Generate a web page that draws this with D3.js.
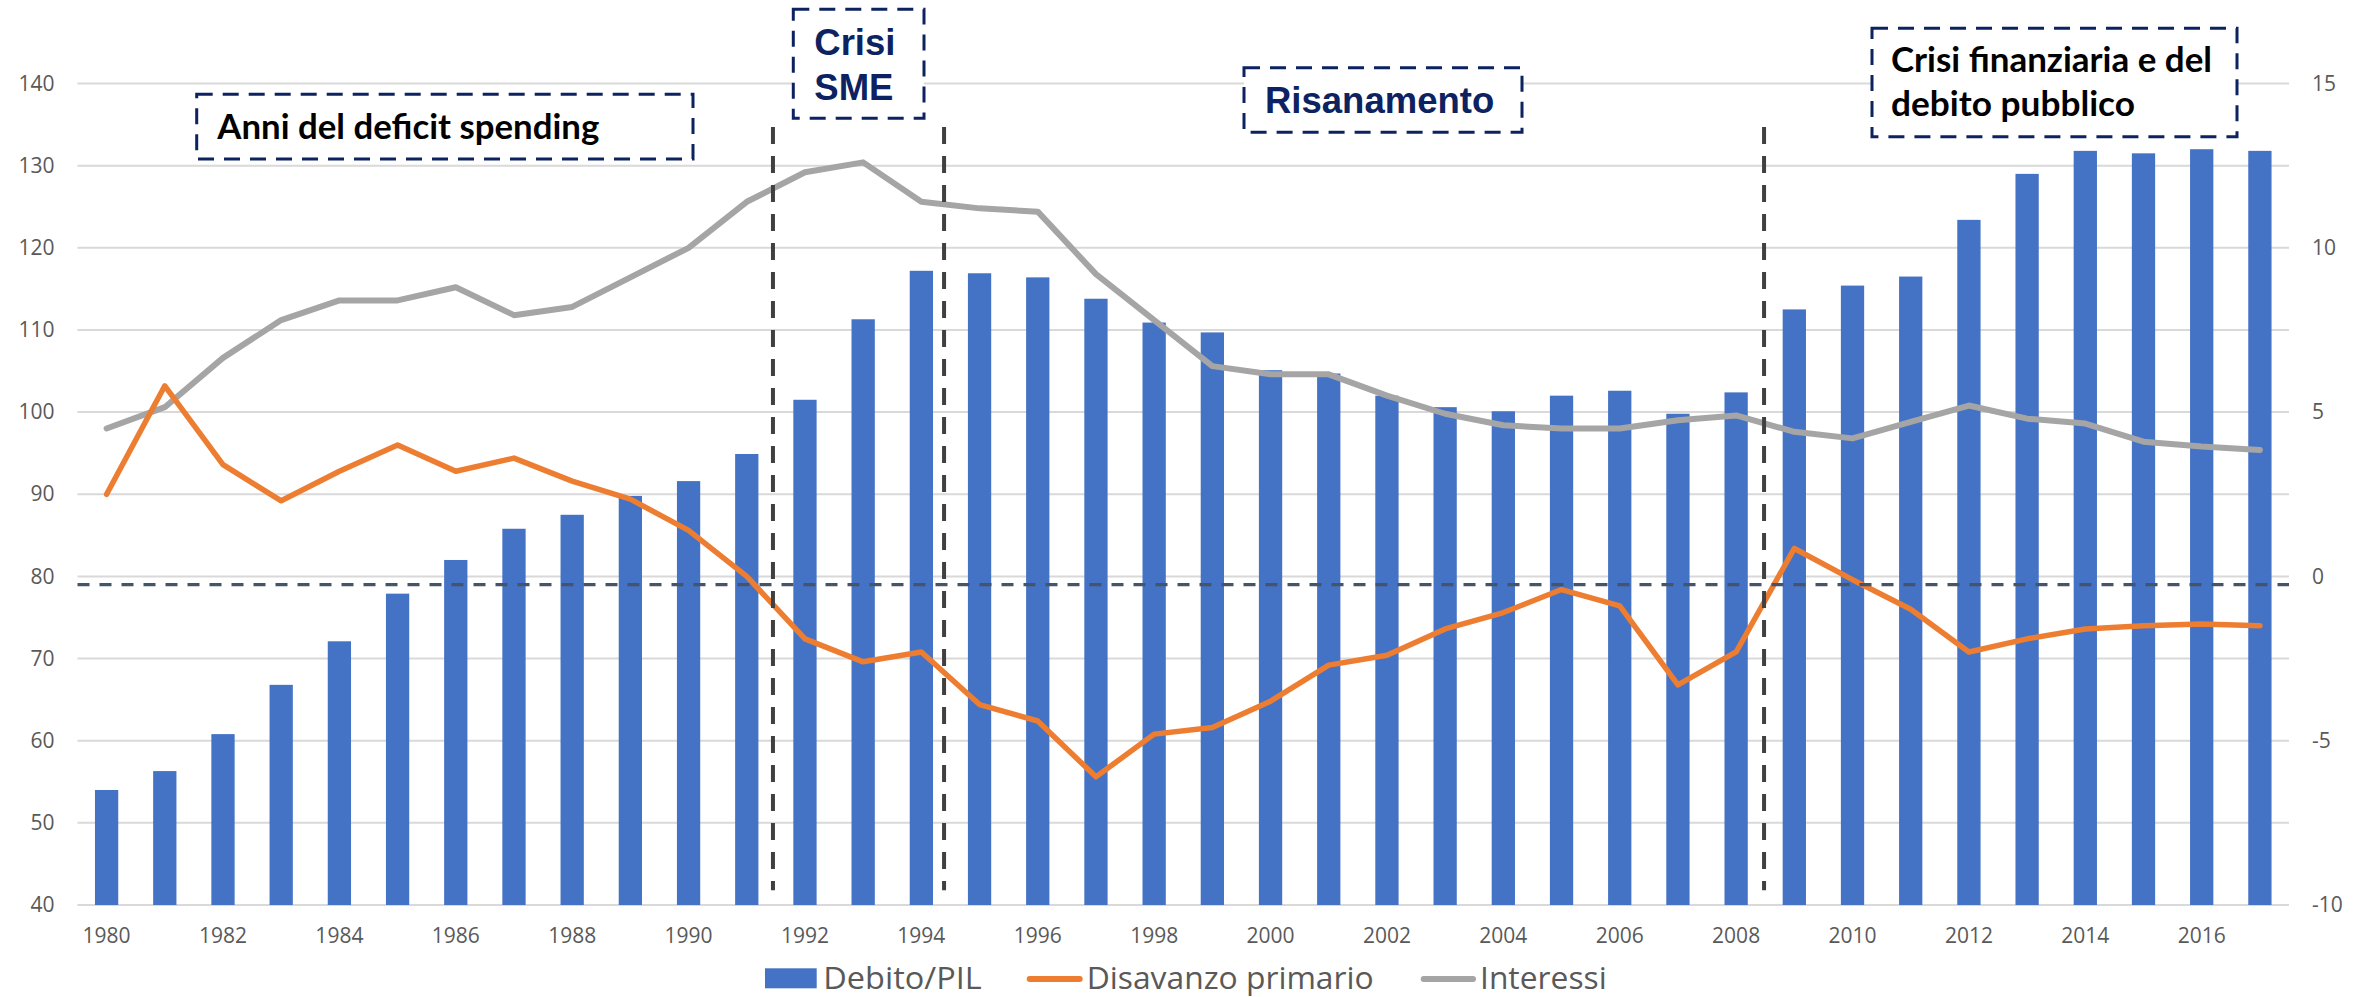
<!DOCTYPE html>
<html><head><meta charset="utf-8">
<script src="https://cdn.jsdelivr.net/npm/d3@7"></script>
<style>body{margin:0;background:#fff} svg{display:block}</style>
</head><body>
<svg id="chart" width="2369" height="997"></svg>
<script>
// ---------- DATA ----------
const years = [1980,1981,1982,1983,1984,1985,1986,1987,1988,1989,1990,1991,1992,1993,1994,1995,1996,1997,1998,1999,
               2000,2001,2002,2003,2004,2005,2006,2007,2008,2009,2010,2011,2012,2013,2014,2015,2016,2017];
const debitoPIL = [54.0,56.3,60.8,66.8,72.1,77.9,82.0,85.8,87.5,89.8,91.6,94.9,101.5,111.3,117.2,116.9,116.4,113.8,110.9,109.7,
                   105.1,104.7,102.0,100.6,100.1,102.0,102.6,99.8,102.4,112.5,115.4,116.5,123.4,129.0,131.8,131.5,132.0,131.8];
const disavanzoPrimario = [2.5,5.8,3.4,2.3,3.2,4.0,3.2,3.6,2.9,2.35,1.4,0.0,-1.9,-2.6,-2.3,-3.9,-4.4,-6.1,-4.8,-4.6,
                           -3.8,-2.7,-2.4,-1.6,-1.1,-0.4,-0.9,-3.3,-2.3,0.85,-0.1,-1.0,-2.3,-1.9,-1.6,-1.5,-1.45,-1.5];
const interessi = [4.5,5.15,6.65,7.8,8.4,8.4,8.8,7.95,8.2,9.1,10.0,11.4,12.3,12.6,11.4,11.2,11.1,9.2,7.8,6.4,
                   6.15,6.15,5.5,4.95,4.6,4.5,4.5,4.75,4.9,4.4,4.2,4.7,5.2,4.8,4.65,4.1,3.95,3.85];
const leftTicks = [40,50,60,70,80,90,100,110,120,130,140];
const rightTicks = [-10,-5,0,5,10,15];
const xTickYears = [1980,1982,1984,1986,1988,1990,1992,1994,1996,1998,2000,2002,2004,2006,2008,2010,2012,2014,2016];
const periodMarkerYears = [1991.45, 1994.39, 2008.48];   // vertical dashed separators
const periodMarkerRange = [41.8, 134.7];                   // on left axis
const referenceLineValue = -0.25;                          // horizontal dashed line (right axis)
const seriesNames = ["Debito/PIL", "Disavanzo primario", "Interessi"];
const annotationLabels = [
  ["Anni del deficit spending"],
  ["Crisi", "SME"],
  ["Risanamento"],
  ["Crisi finanziaria e del", "debito pubblico"]
];

// ---------- LAYOUT / STYLE ----------
const W = 2369, H = 997;
const plot = {left: 77.5, right: 2289, top: 83.5, bottom: 905};
const colors = {bar: "#4472c4", orange: "#ed7d31", gray: "#a5a5a5", grid: "#d9d9d9",
                text: "#595959", ref: "#44546a", marker: "#404040", navy: "#0d2260"};
const boxes = [
  {x0:196.7, y0:94.3, x1:693, y1:159, tx:217.3, base:[139.3], len:[382], style:"calibri"},
  {x0:793.3, y0:9.3, x1:924, y1:118.3, tx:814.3, base:[55,100], len:[null,null], style:"arial"},
  {x0:1244, y0:67.7, x1:1522, y1:132.3, tx:1265, base:[113], len:[null], style:"arial"},
  {x0:1872, y0:28.3, x1:2237, y1:136.7, tx:1891, base:[72,116], len:[321,244], style:"calibri"}
];

const svg = d3.select("#chart");
svg.append("rect").attr("width", W).attr("height", H).attr("fill", "#fff");

const x = d3.scaleBand().domain(years).range([plot.left, plot.right]).paddingInner(0.6).paddingOuter(0.3);
const yL = d3.scaleLinear().domain([40, 140]).range([plot.bottom, plot.top]);
const yR = d3.scaleLinear().domain([-10, 15]).range([plot.bottom, plot.top]);
const xc = yr => x(yr) + x.bandwidth() / 2;
const xf = v => xc(years[0]) + (v - years[0]) * x.step();

const regFont = "'Open Sans', 'Noto Sans', sans-serif";

// gridlines
svg.append("g").selectAll("line").data(leftTicks).join("line")
  .attr("x1", plot.left).attr("x2", plot.right)
  .attr("y1", d => yL(d)).attr("y2", d => yL(d))
  .attr("stroke", colors.grid).attr("stroke-width", 2);

// axes
function styleAxis(g) {
  g.select(".domain").remove();
  g.selectAll(".tick line").remove();
  g.selectAll("text").attr("font-family", regFont).attr("font-size", 21).attr("fill", colors.text);
}
svg.append("g").attr("transform", `translate(${plot.left},0)`)
  .call(d3.axisLeft(yL).tickValues(leftTicks).tickSize(0).tickPadding(23).tickFormat(d3.format("d")))
  .call(styleAxis);
svg.append("g").attr("transform", `translate(${plot.right},0)`)
  .call(d3.axisRight(yR).tickValues(rightTicks).tickSize(0).tickPadding(23).tickFormat(d => d < 0 ? "-" + Math.abs(d) : d))
  .call(styleAxis);
svg.append("g").attr("transform", `translate(0,${plot.bottom})`)
  .call(d3.axisBottom(x).tickValues(xTickYears).tickSize(0).tickPadding(23))
  .call(styleAxis);

// bars
svg.append("g").selectAll("rect").data(years).join("rect")
  .attr("x", d => x(d)).attr("width", x.bandwidth())
  .attr("y", (d, i) => yL(debitoPIL[i]))
  .attr("height", (d, i) => yL(40) - yL(debitoPIL[i]))
  .attr("fill", colors.bar);

// lines
const lineGen = d3.line().x((d, i) => xc(years[i])).y(d => yR(d));
svg.append("path").datum(interessi).attr("d", lineGen)
  .attr("fill", "none").attr("stroke", colors.gray).attr("stroke-width", 6)
  .attr("stroke-linejoin", "round").attr("stroke-linecap", "round");
svg.append("path").datum(disavanzoPrimario).attr("d", lineGen)
  .attr("fill", "none").attr("stroke", colors.orange).attr("stroke-width", 5.5)
  .attr("stroke-linejoin", "round").attr("stroke-linecap", "round");

// horizontal reference line
svg.append("line")
  .attr("x1", plot.left).attr("x2", plot.right)
  .attr("y1", yR(referenceLineValue)).attr("y2", yR(referenceLineValue))
  .attr("stroke", colors.ref).attr("stroke-width", 3.2).attr("stroke-dasharray", "12 10");

// vertical period markers
svg.append("g").selectAll("line").data(periodMarkerYears).join("line")
  .attr("x1", d => xf(d)).attr("x2", d => xf(d))
  .attr("y1", yL(periodMarkerRange[1])).attr("y2", yL(periodMarkerRange[0]))
  .attr("stroke", colors.marker).attr("stroke-width", 4).attr("stroke-dasharray", "17 12");

// annotation boxes
boxes.forEach((b, i) => {
  const g = svg.append("g");
  g.append("rect").attr("x", b.x0).attr("y", b.y0).attr("width", b.x1 - b.x0).attr("height", b.y1 - b.y0)
    .attr("fill", "#fff").attr("stroke", colors.navy).attr("stroke-width", 3).attr("stroke-dasharray", "16 10");
  annotationLabels[i].forEach((t, j) => {
    const txt = g.append("text").attr("x", b.tx).attr("y", b.base[j]).text(t).attr("font-weight", "bold");
    if (b.style === "arial") {
      txt.attr("font-family", "'Liberation Sans', Arial, sans-serif").attr("font-size", 36.5).attr("fill", colors.navy);
    } else {
      txt.attr("font-family", "Lato, 'Open Sans', sans-serif").attr("font-size", 34).attr("fill", "#000");
      if (b.len[j]) txt.attr("textLength", b.len[j]).attr("lengthAdjust", "spacingAndGlyphs");
    }
  });
});

// legend
const lg = svg.append("g");
const legendY = 979, legendBase = 989.3;
lg.append("rect").attr("x", 765).attr("y", 968.3).attr("width", 51.7).attr("height", 20).attr("fill", colors.bar);
lg.append("line").attr("x1", 1029.7).attr("x2", 1079.7).attr("y1", legendY).attr("y2", legendY)
  .attr("stroke", colors.orange).attr("stroke-width", 6).attr("stroke-linecap", "round");
lg.append("line").attr("x1", 1423.7).attr("x2", 1473).attr("y1", legendY).attr("y2", legendY)
  .attr("stroke", colors.gray).attr("stroke-width", 6).attr("stroke-linecap", "round");
const legendText = [{x: 823.3, len: 158.4}, {x: 1086.7, len: 287}, {x: 1480, len: 126.7}];
legendText.forEach((l, i) => {
  lg.append("text").attr("x", l.x).attr("y", legendBase).text(seriesNames[i])
    .attr("font-family", regFont).attr("font-size", 31.5).attr("fill", colors.text)
    .attr("textLength", l.len).attr("lengthAdjust", "spacingAndGlyphs");
});
</script>
</body></html>
